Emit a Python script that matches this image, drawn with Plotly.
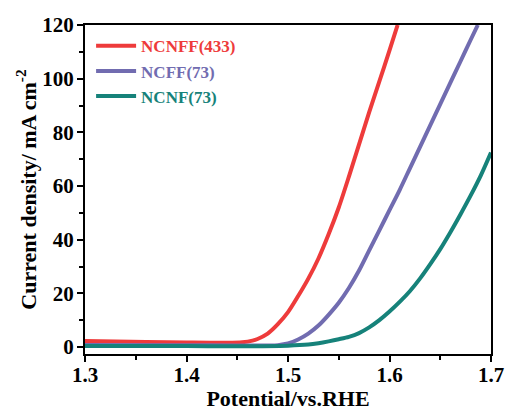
import plotly.graph_objects as go

# LSV polarization data (potential in V vs. RHE, current density in mA cm^-2)
ncnff_v = [1.30, 1.33, 1.36, 1.40, 1.44, 1.455, 1.465, 1.47, 1.48, 1.49, 1.50, 1.51, 1.52, 1.53,
           1.54, 1.55, 1.56, 1.57, 1.58, 1.59, 1.60, 1.608]
ncnff_j = [2.2, 2.1, 1.9, 1.7, 1.6, 1.8, 2.4, 3.0, 5.0, 8.5, 13.0, 19.0, 25.5, 33.0,
           42.0, 52.0, 63.5, 75.5, 87.5, 99.0, 110.5, 120.0]

ncff_v = [1.30, 1.40, 1.45, 1.48, 1.49, 1.50, 1.51, 1.52, 1.53, 1.54, 1.55, 1.56, 1.57, 1.58,
          1.59, 1.60, 1.61, 1.62, 1.63, 1.64, 1.65, 1.66, 1.67, 1.68, 1.687]
ncff_j = [0.8, 0.7, 0.6, 0.6, 0.7, 1.3, 2.8, 5.0, 8.0, 12.0, 16.5, 22.0, 28.5, 36.0,
          43.5, 51.0, 58.5, 66.5, 74.5, 82.5, 90.5, 98.5, 106.5, 114.5, 120.0]

ncnf_v = [1.30, 1.40, 1.45, 1.50, 1.52, 1.53, 1.54, 1.55, 1.56, 1.57, 1.58, 1.59, 1.60, 1.61,
          1.62, 1.63, 1.64, 1.65, 1.66, 1.67, 1.68, 1.69, 1.70]
ncnf_j = [0.4, 0.35, 0.3, 0.5, 0.9, 1.4, 2.1, 2.9, 3.8, 5.2, 7.3, 10.0, 13.2, 16.8,
          20.8, 25.5, 30.8, 36.5, 42.8, 49.5, 56.5, 64.0, 72.5]

series = [
    ("NCNFF(433)", ncnff_v, ncnff_j, "#EE3B3B"),
    ("NCFF(73)", ncff_v, ncff_j, "#716CB0"),
    ("NCNF(73)", ncnf_v, ncnf_j, "#16827A"),
]

FONT = "Liberation Serif, Times New Roman, serif"

fig = go.Figure()
for name, v, j, color in series:
    fig.add_trace(go.Scatter(
        x=v, y=j, mode="lines",
        line=dict(color=color, width=4, shape="spline", smoothing=0.8),
        name=f"<span style='color:{color}'><b>{name}</b></span>",
    ))

axis_common = dict(
    showline=True, linecolor="black", linewidth=2, mirror=True,
    ticks="outside", ticklen=6, tickwidth=2, tickcolor="black",
    showgrid=False, zeroline=False, automargin=False,
    tickfont=dict(family=FONT, size=21, color="black", weight="bold"),
)

fig.update_xaxes(
    range=[1.3, 1.7], dtick=0.1, tickformat=".1f", ticklabelstandoff=-5,
    minor=dict(dtick=0.05, ticks="outside", ticklen=4, tickwidth=2, tickcolor="black"),
    title=dict(text="Potential/vs.RHE", font=dict(family=FONT, size=22, color="black", weight="bold"),
               standoff=8),
    **axis_common,
)
fig.update_yaxes(
    range=[-2.6, 120], dtick=20, ticklabelstandoff=-1,
    minor=dict(dtick=10, ticks="outside", ticklen=4, tickwidth=2, tickcolor="black"),
    title=dict(text="Current density/ mA cm<sup>-2</sup>",
               font=dict(family=FONT, size=22, color="black", weight="bold"), standoff=0),
    **axis_common,
)

fig.update_layout(
    width=506, height=411,
    margin=dict(l=85, r=15, t=25, b=57),
    paper_bgcolor="white", plot_bgcolor="white",
    showlegend=True,
    legend=dict(
        x=0.015, y=0.99, xanchor="left", yanchor="top",
        bgcolor="rgba(0,0,0,0)", borderwidth=0,
        font=dict(family=FONT, size=17), tracegroupgap=0, itemwidth=40,
    ),
)

fig.write_html("out.html")
